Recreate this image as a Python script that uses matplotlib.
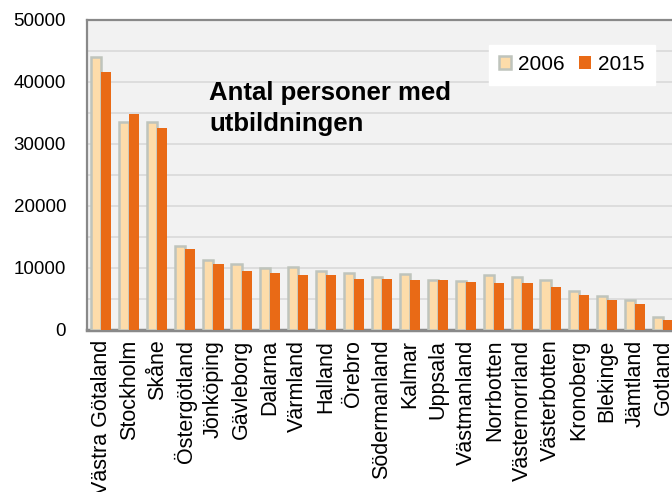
import numpy as np
import matplotlib.pyplot as plt
from matplotlib.ticker import MultipleLocator

# ---------------------------
# data
# ---------------------------
lan = ["Västra Götaland", "Stockholm", "Skåne", "Östergötland", "Jönköping",
       "Gävleborg", "Dalarna", "Värmland", "Halland", "Örebro", "Södermanland",
       "Kalmar", "Uppsala", "Västmanland", "Norrbotten", "Västernorrland",
       "Västerbotten", "Kronoberg", "Blekinge", "Jämtland", "Gotland"]

v2006 = [44000, 33600, 33600, 13600, 11300, 10650, 9950, 10200, 9550, 9150,
         8600, 9100, 8050, 7850, 8850, 8600, 8050, 6350, 5450, 4850, 2050]
v2015 = [41600, 34900, 32500, 13000, 10600, 9550, 9150, 8850, 8850, 8250,
         8250, 8000, 8000, 7800, 7600, 7600, 6950, 5650, 4850, 4200, 1600]

plt.rcParams['font.family'] = ['Liberation Sans', 'DejaVu Sans']

fig = plt.figure(figsize=(6.72, 4.92), dpi=100)
ax = fig.add_axes([87/672, 162/492, 590/672, 310/492])
ax.set_facecolor('#f2f2f2')

x = np.arange(len(lan))
w = 0.36
ax.bar(x - w/2, v2006, w, color='#fddcaa', edgecolor='#bfc4bc', linewidth=1.8,
       label='2006', zorder=3)
ax.bar(x + w/2, v2015, w, color='#e96a16', label='2015', zorder=3)

ax.set_xlim(-0.5, len(lan) - 0.5)
ax.set_ylim(0, 50000)
ax.yaxis.set_major_locator(MultipleLocator(10000))
ax.yaxis.set_minor_locator(MultipleLocator(5000))
ax.grid(axis='y', which='both', color='#d9d9d9', linewidth=1.2, zorder=0)

ax.set_xticks(x)
ax.set_xticklabels(lan, rotation=90, fontsize=15.5)
ax.tick_params(axis='x', length=0, pad=7)
ax.tick_params(axis='y', which='both', length=0, pad=15, labelsize=13.5)

for side in ['top', 'left', 'bottom', 'right']:
    ax.spines[side].set_color('#898989')
    ax.spines[side].set_linewidth(1.6)
ax.spines['bottom'].set_linewidth(2.5)

ax.text(0.207, 0.715, "Antal personer med\nutbildningen", transform=ax.transAxes,
        fontsize=18.5, fontweight='bold', va='center', ha='left', linespacing=1.35)

leg = ax.legend(loc='upper right', bbox_to_anchor=(0.962, 0.92), ncol=2,
                fontsize=15, frameon=True, fancybox=False, edgecolor='white',
                facecolor='white', framealpha=1, handlelength=0.6,
                handleheight=0.6, handletextpad=0.3, columnspacing=0.7,
                borderpad=0.5, borderaxespad=0)

plt.savefig('out.png', dpi=100)
